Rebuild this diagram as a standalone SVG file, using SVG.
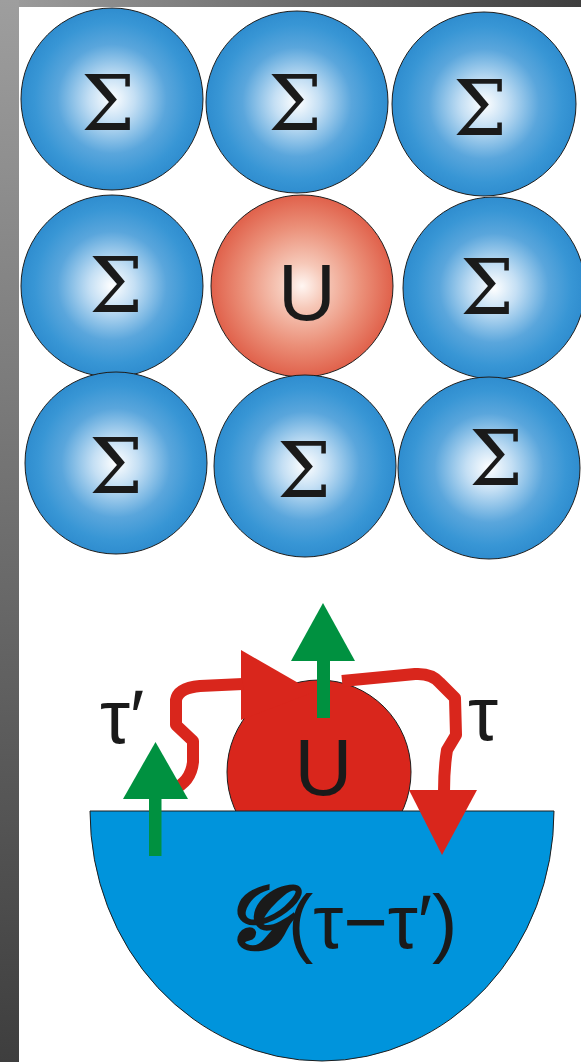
<svg xmlns="http://www.w3.org/2000/svg" width="581" height="1062" viewBox="0 0 581 1062">
  <defs>
    <linearGradient id="gTop" x1="0" y1="0" x2="1" y2="0">
      <stop offset="0" stop-color="#9e9e9e"/>
      <stop offset="1" stop-color="#3e3e3e"/>
    </linearGradient>
    <linearGradient id="gLeft" x1="0" y1="0" x2="0" y2="1">
      <stop offset="0" stop-color="#9e9e9e"/>
      <stop offset="1" stop-color="#3e3e3e"/>
    </linearGradient>
    <radialGradient id="blue" cx="0.5" cy="0.5" r="0.5">
      <stop offset="0" stop-color="#ffffff"/>
      <stop offset="0.25" stop-color="#c4dff4"/>
      <stop offset="0.6" stop-color="#5aa6dc"/>
      <stop offset="0.85" stop-color="#3896d5"/>
      <stop offset="1" stop-color="#2f8dcf"/>
    </radialGradient>
    <radialGradient id="red" cx="0.5" cy="0.5" r="0.5">
      <stop offset="0" stop-color="#fff6f2"/>
      <stop offset="0.25" stop-color="#f6c8b8"/>
      <stop offset="0.65" stop-color="#eb9079"/>
      <stop offset="1" stop-color="#e0614b"/>
    </radialGradient>
  </defs>
  <style>
    .sig { fill: url(#blue); stroke: #1e1e1e; stroke-width: 1; }
    .uc { fill: url(#red); stroke: #1e1e1e; stroke-width: 1; }
    .sym { font-family: "DejaVu Serif", serif; font-size: 76px; fill: #1a1a1a; text-anchor: middle; }
    .sans { font-family: "Liberation Sans", "DejaVu Sans", sans-serif; fill: #1a1a1a; }
    .wave { fill: none; stroke: #d9261c; stroke-width: 12; stroke-linejoin: round; }
    .redfill { fill: #d9261c; }
    .green { fill: #009140; }
  </style>

  <rect x="0" y="0" width="581" height="1062" fill="#ffffff"/>
  <rect x="0" y="0" width="581" height="7" fill="url(#gTop)"/>
  <rect x="0" y="0" width="19" height="1062" fill="url(#gLeft)"/>

  <g id="n-r1c1"><circle class="sig" cx="112" cy="99" r="91"/><text class="sym" x="108" y="130">Σ</text></g>
  <g id="n-r1c2"><circle class="sig" cx="297" cy="102" r="91"/><text class="sym" x="295" y="130">Σ</text></g>
  <g id="n-r1c3"><circle class="sig" cx="484" cy="104" r="92"/><text class="sym" x="480" y="135">Σ</text></g>

  <g id="n-r2c1"><circle class="sig" cx="112" cy="286" r="91"/><text class="sym" x="116" y="312">Σ</text></g>
  <g id="n-r2c2"><circle class="uc" cx="302" cy="286" r="91"/><text class="sans" x="307" y="320" font-size="80" text-anchor="middle">U</text></g>
  <g id="n-r2c3"><circle class="sig" cx="494" cy="288" r="91"/><text class="sym" x="487" y="314">Σ</text></g>

  <g id="n-r3c1"><circle class="sig" cx="116" cy="463" r="91"/><text class="sym" x="116" y="493">Σ</text></g>
  <g id="n-r3c2"><circle class="sig" cx="305" cy="466" r="91"/><text class="sym" x="304" y="497">Σ</text></g>
  <g id="n-r3c3"><circle class="sig" cx="489" cy="468" r="91"/><text class="sym" x="496" y="485">Σ</text></g>

  <g id="n-impurity">
    <circle cx="319" cy="772" r="92" fill="#d9261c" stroke="#1e1e1e" stroke-width="1"/>
  </g>
  <g id="n-bath">
    <path d="M 90 811 L 554 811 A 232 250 0 0 1 90 811 Z" fill="#0094dc" stroke="#1e1e1e" stroke-width="1"/>
    <text class="sans" x="226" y="948" font-size="76"><tspan font-family="'DejaVu Serif', serif" font-weight="bold" font-style="italic" font-size="88">𝓖</tspan>(τ−τ′)</text>
  </g>

  <g id="connectors">
    <polygon class="redfill" points="241,650 314,692 241,720"/>
    <path class="wave" d="M 243 684 L 200 686 Q 178 688 176 700 L 176 725 L 193 741 L 193 762 Q 191 782 172 790"/>
    <path class="wave" d="M 342 681 L 415 674 Q 432 673 440 683 L 455 698 L 456 735 L 447 750 Q 444 768 444 792"/>
    <polygon class="redfill" points="409,790 477,790 442,855"/>
    <polygon class="green" points="323,603 355,661 291,661"/>
    <rect class="green" x="317" y="660" width="13" height="58"/>
    <polygon class="green" points="155.5,742 188,799 123,799"/>
    <rect class="green" x="149" y="798" width="12.5" height="58"/>
  </g>

  <g id="labels">
    <text class="sans" x="100" y="743" font-size="76">τ′</text>
    <text class="sans" x="468" y="740" font-size="76">τ</text>
    <text class="sans" x="323.5" y="795" font-size="80" text-anchor="middle">U</text>
  </g>
</svg>
